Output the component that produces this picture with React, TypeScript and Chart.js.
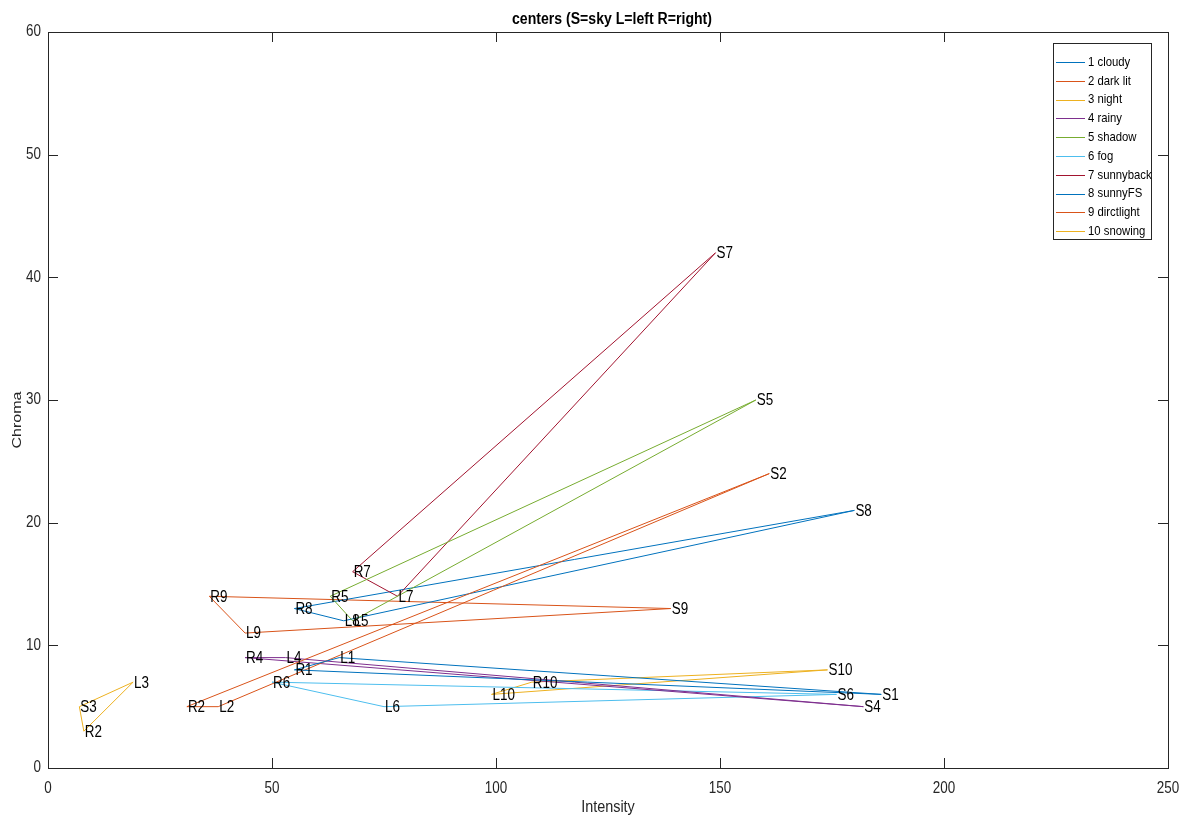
import React, { useEffect, useRef } from "react";
import { Chart, registerables } from "chart.js";
Chart.register(...registerables);

const seriesNames = [
  "1 cloudy", "2 dark lit", "3 night", "4 rainy", "5 shadow",
  "6 fog", "7 sunnyback", "8 sunnyFS", "9 dirctlight", "10 snowing",
];
const seriesColors = [
  "#0072BD", "#D95319", "#EDB120", "#7E2F8E", "#77AC30",
  "#4DBEEE", "#A2142F", "#0072BD", "#D95319", "#EDB120",
];
const skyIntensity = [186, 161, 7, 182, 158, 176, 149, 180, 139, 174];
const skyChroma = [6, 24, 5, 5, 30, 6, 42, 21, 13, 8];
const leftIntensity = [65, 38, 19, 53, 68, 75, 78, 66, 44, 99];
const leftChroma = [9, 5, 7, 9, 12, 5, 14, 12, 11, 6];
const rightIntensity = [55, 31, 8, 44, 63, 50, 68, 55, 36, 108];
const rightChroma = [8, 5, 3, 9, 14, 7, 16, 13, 14, 7];
const skyLabels = ["S1", "S2", "S3", "S4", "S5", "S6", "S7", "S8", "S9", "S10"];
const leftLabels = ["L1", "L2", "L3", "L4", "L5", "L6", "L7", "L8", "L9", "L10"];
const rightLabels = ["R1", "R2", "R2", "R4", "R5", "R6", "R7", "R8", "R9", "R10"];
const xTickValues = [0, 50, 100, 150, 200, 250];
const yTickValues = [0, 10, 20, 30, 40, 50, 60];
const titleText = "centers (S=sky L=left R=right)";
const xTitle = "Intensity";
const yTitle = "Chroma";

const FONT = "'Liberation Sans', Arial, Helvetica, sans-serif";
const AXIS_COLOR = "#262626";
const SQUEEZE = 0.84;

function squeezedText(ctx: CanvasRenderingContext2D, text: string, x: number, y: number, align: CanvasTextAlign, sx = SQUEEZE) {
  ctx.save();
  ctx.translate(x, y);
  ctx.scale(sx, 1);
  ctx.textAlign = align;
  ctx.fillText(text, 0, 0);
  ctx.restore();
}

const decorPlugin = {
  id: "matlabDecor",
  afterDatasetsDraw(chart: any) {
    const ctx = chart.ctx;
    const xs = chart.scales.x;
    const ys = chart.scales.y;
    ctx.save();
    ctx.font = `16px ${FONT}`;
    ctx.fillStyle = "#000000";
    ctx.textBaseline = "middle";
    for (let i = 0; i < seriesNames.length; i++) {
      const pts: [number, number, string][] = [
        [skyIntensity[i], skyChroma[i], skyLabels[i]],
        [leftIntensity[i], leftChroma[i], leftLabels[i]],
        [rightIntensity[i], rightChroma[i], rightLabels[i]],
      ];
      for (const [x, y, t] of pts) {
        squeezedText(ctx, t, xs.getPixelForValue(x) + 1, ys.getPixelForValue(y) + 1, "left");
      }
    }
    ctx.restore();
  },
  afterDraw(chart: any) {
    const ctx = chart.ctx;
    const a = chart.chartArea;
    const xs = chart.scales.x;
    const ys = chart.scales.y;
    ctx.save();
    // box
    ctx.strokeStyle = AXIS_COLOR;
    ctx.lineWidth = 1;
    ctx.strokeRect(a.left + 0.5, a.top + 0.5, a.right - a.left, a.bottom - a.top);
    const tl = 10;
    ctx.beginPath();
    for (const v of xTickValues) {
      const px = Math.round(xs.getPixelForValue(v)) + 0.5;
      ctx.moveTo(px, a.bottom);
      ctx.lineTo(px, a.bottom - tl);
      ctx.moveTo(px, a.top);
      ctx.lineTo(px, a.top + tl);
    }
    for (const v of yTickValues) {
      const py = Math.round(ys.getPixelForValue(v)) + 0.5;
      ctx.moveTo(a.left, py);
      ctx.lineTo(a.left + tl, py);
      ctx.moveTo(a.right, py);
      ctx.lineTo(a.right - tl, py);
    }
    ctx.stroke();

    // tick labels
    ctx.fillStyle = AXIS_COLOR;
    ctx.font = `16px ${FONT}`;
    ctx.textBaseline = "middle";
    for (const v of xTickValues) {
      squeezedText(ctx, String(v), xs.getPixelForValue(v), a.bottom + 21, "center");
    }
    for (const v of yTickValues) {
      squeezedText(ctx, String(v), a.left - 7, ys.getPixelForValue(v), "right");
    }

    // title
    ctx.fillStyle = "#000000";
    ctx.font = `bold 16px ${FONT}`;
    squeezedText(ctx, titleText, (a.left + a.right) / 2 + 4, 20, "center", 0.88);

    // axis titles
    ctx.fillStyle = AXIS_COLOR;
    ctx.font = `16px ${FONT}`;
    squeezedText(ctx, xTitle, (a.left + a.right) / 2, 808, "center", 0.9);
    ctx.save();
    ctx.translate(17, (a.top + a.bottom) / 2 + 20);
    ctx.rotate(-Math.PI / 2);
    ctx.scale(1, SQUEEZE);
    ctx.textAlign = "center";
    ctx.fillText(yTitle, 0, 0);
    ctx.restore();

    // legend
    const lx = 1053, ly = 43, lw = 98, lh = 196;
    ctx.fillStyle = "#ffffff";
    ctx.fillRect(lx, ly, lw, lh);
    ctx.strokeStyle = AXIS_COLOR;
    ctx.lineWidth = 1;
    ctx.strokeRect(lx + 0.5, ly + 0.5, lw, lh);
    ctx.font = `13.5px ${FONT}`;
    ctx.textBaseline = "middle";
    for (let i = 0; i < seriesNames.length; i++) {
      const yy = 62 + i * 18.8;
      ctx.strokeStyle = seriesColors[i];
      ctx.beginPath();
      ctx.moveTo(1056, Math.round(yy) + 0.5);
      ctx.lineTo(1085, Math.round(yy) + 0.5);
      ctx.stroke();
      ctx.fillStyle = "#000000";
      squeezedText(ctx, seriesNames[i], 1088, yy, "left", 0.84);
    }
    ctx.restore();
  },
};

export default function App() {
  const ref = useRef<HTMLCanvasElement | null>(null);
  useEffect(() => {
    document.body.style.margin = "0";
    const canvas = ref.current!;
    const datasets = seriesNames.map((name, i) => ({
      label: name,
      data: [
        { x: skyIntensity[i], y: skyChroma[i] },
        { x: leftIntensity[i], y: leftChroma[i] },
        { x: rightIntensity[i], y: rightChroma[i] },
        { x: skyIntensity[i], y: skyChroma[i] },
      ],
      showLine: true,
      borderColor: seriesColors[i],
      backgroundColor: seriesColors[i],
      borderWidth: 1,
      pointRadius: 0,
      tension: 0,
    }));
    const chart = new Chart(canvas, {
      type: "scatter",
      data: { datasets },
      options: {
        animation: false,
        responsive: false,
        layout: { padding: { top: 32, right: 13, left: 0, bottom: 0 } },
        plugins: {
          legend: { display: false },
          title: { display: false },
          tooltip: { enabled: false },
        },
        scales: {
          x: {
            type: "linear",
            min: 0,
            max: 250,
            afterBuildTicks: (s: any) => {
              s.ticks = xTickValues.map((v) => ({ value: v }));
            },
            afterFit: (s: any) => {
              s.height = 52;
            },
            grid: { display: false, drawTicks: false },
            border: { display: false },
            ticks: { display: false },
          },
          y: {
            type: "linear",
            min: 0,
            max: 60,
            afterBuildTicks: (s: any) => {
              s.ticks = yTickValues.map((v) => ({ value: v }));
            },
            afterFit: (s: any) => {
              s.width = 48;
            },
            grid: { display: false, drawTicks: false },
            border: { display: false },
            ticks: { display: false },
          },
        },
      },
      plugins: [decorPlugin],
    } as any);
    return () => chart.destroy();
  }, []);
  return (
    <div style={{ width: 1181, height: 820, background: "#ffffff" }}>
      <canvas ref={ref} width={1181} height={820} style={{ display: "block" }} />
    </div>
  );
}
